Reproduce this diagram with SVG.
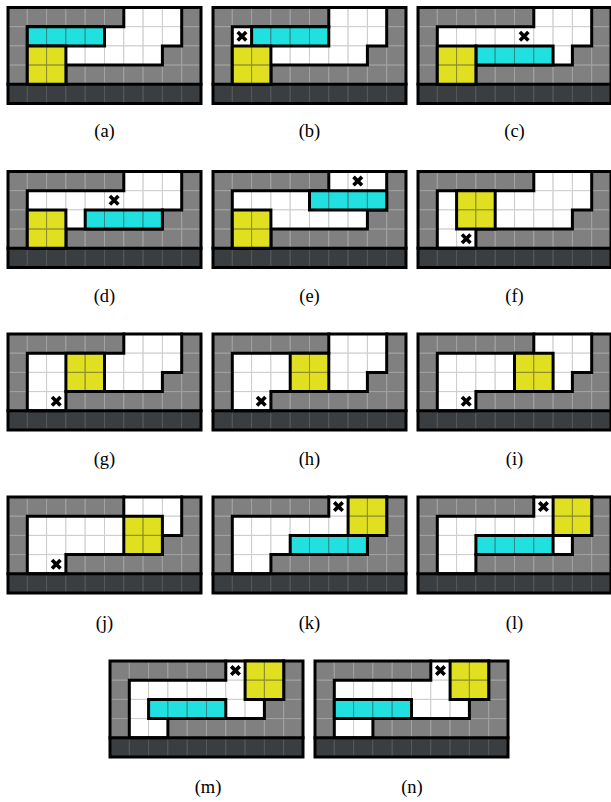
<svg xmlns="http://www.w3.org/2000/svg" xmlns:xlink="http://www.w3.org/1999/xlink" width="611" height="802" viewBox="0 0 611 802">
<style>
.g{fill:#808080;stroke:#a2a2a2;stroke-width:1;vector-effect:non-scaling-stroke}
.w{fill:#ffffff;stroke:#cccccc;stroke-width:1;vector-effect:non-scaling-stroke}
.d{fill:#3b3e41;stroke:#55585b;stroke-width:1;vector-effect:non-scaling-stroke}
.y{fill:#e0e020;stroke:#8a8a30;stroke-width:1;vector-effect:non-scaling-stroke}
.c{fill:#20e0e0;stroke:#308a8a;stroke-width:1;vector-effect:non-scaling-stroke}
.t{fill:none;stroke:#000;stroke-width:3;stroke-linecap:square;stroke-linejoin:miter;vector-effect:non-scaling-stroke}
.x{fill:none;stroke:#000;stroke-width:3.6;vector-effect:non-scaling-stroke}
.lab{font-family:"Liberation Serif","DejaVu Serif",serif;font-size:18.5px;fill:#000;text-anchor:middle}
</style>
<defs>
<g id="base">
<rect class="g" x="0" y="0" width="1" height="1"/><rect class="g" x="1" y="0" width="1" height="1"/><rect class="g" x="2" y="0" width="1" height="1"/><rect class="g" x="3" y="0" width="1" height="1"/><rect class="g" x="4" y="0" width="1" height="1"/><rect class="g" x="5" y="0" width="1" height="1"/><rect class="g" x="9" y="0" width="1" height="1"/>
<rect class="g" x="0" y="1" width="1" height="1"/><rect class="g" x="9" y="1" width="1" height="1"/>
<rect class="g" x="0" y="2" width="1" height="1"/><rect class="g" x="8" y="2" width="1" height="1"/><rect class="g" x="9" y="2" width="1" height="1"/>
<rect class="g" x="0" y="3" width="1" height="1"/><rect class="g" x="3" y="3" width="1" height="1"/><rect class="g" x="4" y="3" width="1" height="1"/><rect class="g" x="5" y="3" width="1" height="1"/><rect class="g" x="6" y="3" width="1" height="1"/><rect class="g" x="7" y="3" width="1" height="1"/><rect class="g" x="8" y="3" width="1" height="1"/><rect class="g" x="9" y="3" width="1" height="1"/>
<rect class="w" x="6" y="0" width="1" height="1"/><rect class="w" x="7" y="0" width="1" height="1"/><rect class="w" x="8" y="0" width="1" height="1"/>
<rect class="w" x="1" y="1" width="1" height="1"/><rect class="w" x="2" y="1" width="1" height="1"/><rect class="w" x="3" y="1" width="1" height="1"/><rect class="w" x="4" y="1" width="1" height="1"/><rect class="w" x="5" y="1" width="1" height="1"/><rect class="w" x="6" y="1" width="1" height="1"/><rect class="w" x="7" y="1" width="1" height="1"/><rect class="w" x="8" y="1" width="1" height="1"/>
<rect class="w" x="1" y="2" width="1" height="1"/><rect class="w" x="2" y="2" width="1" height="1"/><rect class="w" x="3" y="2" width="1" height="1"/><rect class="w" x="4" y="2" width="1" height="1"/><rect class="w" x="5" y="2" width="1" height="1"/><rect class="w" x="6" y="2" width="1" height="1"/><rect class="w" x="7" y="2" width="1" height="1"/>
<rect class="w" x="1" y="3" width="1" height="1"/><rect class="w" x="2" y="3" width="1" height="1"/>
<rect class="d" x="0" y="4" width="1" height="1"/><rect class="d" x="1" y="4" width="1" height="1"/><rect class="d" x="2" y="4" width="1" height="1"/><rect class="d" x="3" y="4" width="1" height="1"/><rect class="d" x="4" y="4" width="1" height="1"/><rect class="d" x="5" y="4" width="1" height="1"/><rect class="d" x="6" y="4" width="1" height="1"/><rect class="d" x="7" y="4" width="1" height="1"/><rect class="d" x="8" y="4" width="1" height="1"/><rect class="d" x="9" y="4" width="1" height="1"/>
<path class="t" d="M6 0V1H1V4H3V3H8V2H9V0"/>
<path class="t" d="M0 4H10"/>
<rect class="t" x="0" y="0" width="10" height="5"/>
</g>
<g id="yel">
<rect class="y" x="0" y="0" width="1" height="1"/><rect class="y" x="1" y="0" width="1" height="1"/><rect class="y" x="0" y="1" width="1" height="1"/><rect class="y" x="1" y="1" width="1" height="1"/>
<rect class="t" x="0" y="0" width="2" height="2"/>
</g>
<g id="cya">
<rect class="c" x="0" y="0" width="1" height="1"/><rect class="c" x="1" y="0" width="1" height="1"/><rect class="c" x="2" y="0" width="1" height="1"/><rect class="c" x="3" y="0" width="1" height="1"/>
<rect class="t" x="0" y="0" width="4" height="1"/>
</g>
<path id="xm" class="x" d="M0.28 0.28L0.72 0.72M0.72 0.28L0.28 0.72"/>
</defs>

<g id="panel-a"><g transform="translate(8,7.5) scale(19.3,19.2)"><use href="#base"/><use href="#cya" x="1" y="1"/><use href="#yel" x="1" y="2"/></g><text class="lab" x="104.5" y="137">(a)</text></g>
<g id="panel-b"><g transform="translate(213,7.5) scale(19.3,19.2)"><use href="#base"/><use href="#cya" x="2" y="1"/><use href="#yel" x="1" y="2"/><use href="#xm" x="1" y="1"/></g><text class="lab" x="309.5" y="137">(b)</text></g>
<g id="panel-c"><g transform="translate(418,7.5) scale(19.3,19.2)"><use href="#base"/><use href="#cya" x="3" y="2"/><use href="#yel" x="1" y="2"/><use href="#xm" x="5" y="1"/></g><text class="lab" x="514.5" y="137">(c)</text></g>

<g id="panel-d"><g transform="translate(8,171.5) scale(19.3,19.2)"><use href="#base"/><use href="#cya" x="4" y="2"/><use href="#yel" x="1" y="2"/><use href="#xm" x="5" y="1"/></g><text class="lab" x="104.5" y="302">(d)</text></g>
<g id="panel-e"><g transform="translate(213,171.5) scale(19.3,19.2)"><use href="#base"/><use href="#cya" x="5" y="1"/><use href="#yel" x="1" y="2"/><use href="#xm" x="7" y="0"/></g><text class="lab" x="309.5" y="302">(e)</text></g>
<g id="panel-f"><g transform="translate(418,171.5) scale(19.3,19.2)"><use href="#base"/><use href="#yel" x="2" y="1"/><use href="#xm" x="2" y="3"/></g><text class="lab" x="514.5" y="302">(f)</text></g>

<g id="panel-g"><g transform="translate(8,334) scale(19.3,19.2)"><use href="#base"/><use href="#yel" x="3" y="1"/><use href="#xm" x="2" y="3"/></g><text class="lab" x="104.5" y="465">(g)</text></g>
<g id="panel-h"><g transform="translate(213,334) scale(19.3,19.2)"><use href="#base"/><use href="#yel" x="4" y="1"/><use href="#xm" x="2" y="3"/></g><text class="lab" x="309.5" y="465">(h)</text></g>
<g id="panel-i"><g transform="translate(418,334) scale(19.3,19.2)"><use href="#base"/><use href="#yel" x="5" y="1"/><use href="#xm" x="2" y="3"/></g><text class="lab" x="514.5" y="465">(i)</text></g>

<g id="panel-j"><g transform="translate(8,497) scale(19.3,19.2)"><use href="#base"/><use href="#yel" x="6" y="1"/><use href="#xm" x="2" y="3"/></g><text class="lab" x="104.5" y="629">(j)</text></g>
<g id="panel-k"><g transform="translate(213,497) scale(19.3,19.2)"><use href="#base"/><use href="#cya" x="4" y="2"/><use href="#yel" x="7" y="0"/><use href="#xm" x="6" y="0"/></g><text class="lab" x="309.5" y="629">(k)</text></g>
<g id="panel-l"><g transform="translate(418,497) scale(19.3,19.2)"><use href="#base"/><use href="#cya" x="3" y="2"/><use href="#yel" x="7" y="0"/><use href="#xm" x="6" y="0"/></g><text class="lab" x="514.5" y="629">(l)</text></g>

<g id="panel-m"><g transform="translate(110,661) scale(19.3,19.2)"><use href="#base"/><use href="#cya" x="2" y="2"/><use href="#yel" x="7" y="0"/><use href="#xm" x="6" y="0"/></g><text class="lab" x="208" y="793">(m)</text></g>
<g id="panel-n"><g transform="translate(315,661) scale(19.3,19.2)"><use href="#base"/><use href="#cya" x="1" y="2"/><use href="#yel" x="7" y="0"/><use href="#xm" x="6" y="0"/></g><text class="lab" x="412" y="793">(n)</text></g>
</svg>
